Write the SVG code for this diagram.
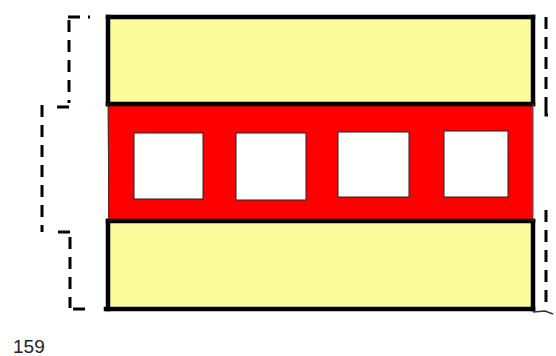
<svg xmlns="http://www.w3.org/2000/svg" width="556" height="356" viewBox="0 0 556 356">
<style>
.yellow{fill:#fbfb9c;stroke:none}
.red{fill:#ff0000;stroke:none}
.win{fill:#ffffff;stroke:#222;stroke-width:1}
.edge{stroke:#000;stroke-width:4.5;fill:none;stroke-linecap:square}
.dash{stroke:#000;stroke-width:3;fill:none;stroke-dasharray:12 8}
.lbl{font-family:"Liberation Sans",Arial,sans-serif;font-size:19px;fill:#222}
</style>
<rect width="556" height="356" fill="#ffffff"/>
<g id="top-band">
<rect class="yellow" x="108" y="17" width="425" height="87"/>
</g>
<g id="middle-band">
<rect class="red" x="108" y="104" width="425" height="118"/>
<rect class="win" x="134" y="133" width="69" height="66"/>
<rect class="win" x="236" y="133" width="70" height="67"/>
<rect class="win" x="338" y="132" width="71" height="65"/>
<rect class="win" x="444" y="131" width="64" height="66"/>
</g>
<g id="bottom-band">
<rect class="yellow" x="108" y="222" width="425" height="88"/>
</g>
<g id="outlines">
<line class="edge" x1="108" y1="17" x2="533" y2="17"/>
<line class="edge" x1="108" y1="104" x2="533" y2="104"/>
<line class="edge" x1="108" y1="221" x2="533" y2="221"/>
<line class="edge" x1="106" y1="309" x2="533" y2="309"/>
<line class="edge" x1="108" y1="17" x2="108" y2="104"/>
<line class="edge" x1="108" y1="221" x2="108" y2="309"/>
<line class="edge" x1="533" y1="17" x2="533" y2="104"/>
<line class="edge" x1="533" y1="221" x2="533" y2="309"/>
<line x1="108" y1="104" x2="109" y2="221" stroke="#333" stroke-width="1"/>
<line x1="533" y1="104" x2="533" y2="221" stroke="#555" stroke-width="1"/>
</g>
<g id="connectors">
<path class="dash" d="M68 17 H90"/>
<path class="dash" d="M69 20 V103"/>
<path class="dash" d="M57 107 H72"/>
<path class="dash" d="M42 105 V232"/>
<path class="dash" d="M58 232 H73"/>
<path class="dash" d="M70 237 V308"/>
<path class="dash" d="M73 309 H89"/>
<path class="dash" d="M546 17 V105"/>
<path class="dash" d="M546 105 V115 H552" stroke-dasharray="none"/>
<path class="dash" d="M546 210 V305"/>
<path d="M533 312 L545 311 L553 314" stroke="#333" stroke-width="1.5" fill="none"/>
</g>
<text class="lbl" x="13" y="353">159</text>
</svg>
